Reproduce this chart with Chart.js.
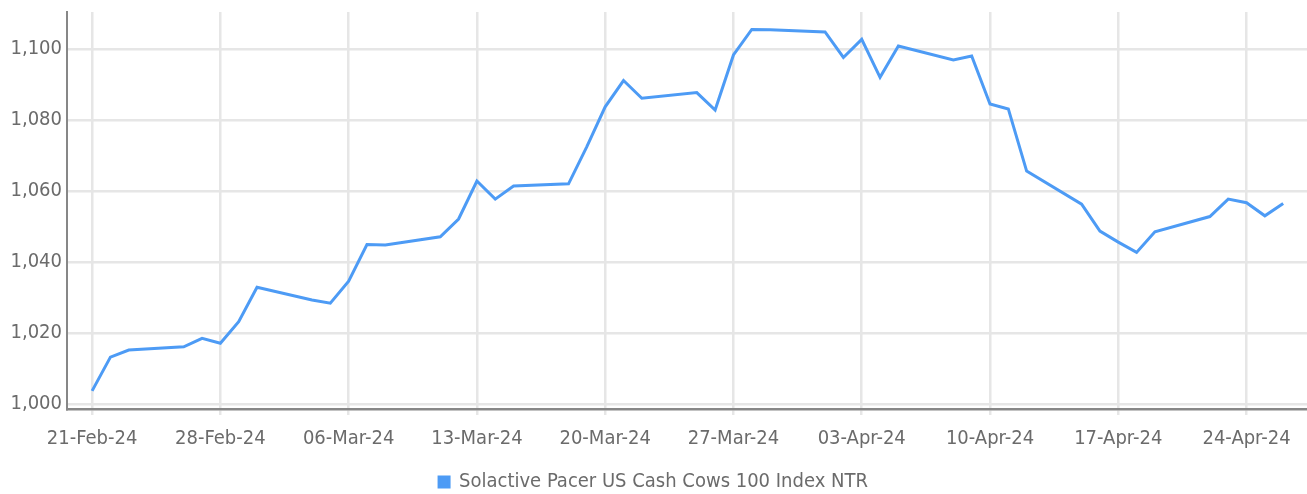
<!DOCTYPE html>
<html>
<head>
<meta charset="utf-8">
<script src="https://cdn.jsdelivr.net/npm/chart.js@4"></script>
<style>
  html, body { margin: 0; padding: 0; background: #fff; }
  #wrap { width: 1307px; height: 494px; }
</style>
</head>
<body>
<div id="wrap"><canvas id="indexChart"></canvas></div>
<script>
// trading days and index closes
var dates = ['2024-02-21','2024-02-22','2024-02-23','2024-02-26','2024-02-27','2024-02-28','2024-02-29','2024-03-01',
  '2024-03-04','2024-03-05','2024-03-06','2024-03-07','2024-03-08','2024-03-11','2024-03-12','2024-03-13','2024-03-14','2024-03-15',
  '2024-03-18','2024-03-19','2024-03-20','2024-03-21','2024-03-22','2024-03-25','2024-03-26','2024-03-27','2024-03-28','2024-03-29',
  '2024-04-01','2024-04-02','2024-04-03','2024-04-04','2024-04-05','2024-04-08','2024-04-09','2024-04-10','2024-04-11','2024-04-12',
  '2024-04-15','2024-04-16','2024-04-17','2024-04-18','2024-04-19','2024-04-22','2024-04-23','2024-04-24','2024-04-25','2024-04-26'];
var values = [1003.7,1013.2,1015.2,1016.1,1018.5,1017.1,1023.2,1032.9,
  1029.3,1028.4,1034.6,1044.9,1044.8,1047.1,1052.1,1062.8,1057.7,1061.4,
  1062.0,1072.5,1083.7,1091.1,1086.1,1087.7,1082.8,1098.3,1105.5,1105.4,
  1104.8,1097.6,1102.7,1092.0,1100.8,1096.9,1098.0,1084.5,1083.1,1065.6,
  1056.3,1048.7,1045.6,1042.7,1048.5,1052.8,1057.7,1056.7,1053.0,1056.5];
var seriesName = 'Solactive Pacer US Cash Cows 100 Index NTR';
var xTickDates = ['2024-02-21','2024-02-28','2024-03-06','2024-03-13','2024-03-20','2024-03-27','2024-04-03','2024-04-10','2024-04-17','2024-04-24'];
var yTicks = [1000,1020,1040,1060,1080,1100];

var DAY = 86400000;
var base = Date.parse(dates[0]);
function dayNum(s){ return (Date.parse(s) - base) / DAY; }
var months = ['Jan','Feb','Mar','Apr','May','Jun','Jul','Aug','Sep','Oct','Nov','Dec'];
function fmtDay(n){
    var d = new Date(base + n * DAY);
    var dd = ('0' + d.getUTCDate()).slice(-2);
    return dd + '-' + months[d.getUTCMonth()] + '-' + String(d.getUTCFullYear()).slice(-2);
}

var points = dates.map(function(s, i){ return {x: dayNum(s), y: values[i]}; });

var FONT = "'DejaVu Sans Condensed', 'Liberation Sans', sans-serif";
var TEXT = '#6b6b6b';
var GRID = '#e6e6e6';

var ctx = document.getElementById('indexChart').getContext('2d');
var chart = new Chart(ctx, {
    type: 'line',
    data: {
        datasets: [{
            label: seriesName,
            data: points,
            borderColor: '#4d9bf5',
            backgroundColor: '#4d9bf5',
            borderWidth: 3,
            pointRadius: 0,
            tension: 0,
            fill: false
        }]
    },
    options: {
        responsive: true,
        maintainAspectRatio: false,
        animation: false,
        // negative bottom padding lets the legend row sit lower
        layout: { padding: { top: 12, right: 0, left: 0, bottom: -8 } },
        plugins: {
            tooltip: { enabled: false },
            legend: {
                position: 'bottom',
                labels: {
                    color: TEXT,
                    font: { family: FONT, size: 20 },
                    boxWidth: 10,
                    boxHeight: 10,
                    padding: 3
                }
            }
        },
        scales: {
            x: {
                type: 'linear',
                min: -1.37,
                max: 66.3,
                afterBuildTicks: function(s){ s.ticks = xTickDates.map(function(d){ return {value: dayNum(d)}; }); },
                afterFit: function(s){ s.height = 60; },
                ticks: {
                    color: TEXT,
                    font: { family: FONT, size: 20 },
                    padding: 12,
                    maxRotation: 0,
                    callback: function(v){ return fmtDay(v); }
                },
                grid: { color: GRID, lineWidth: 2.5, drawTicks: true, tickLength: 6, tickColor: GRID },
                border: { display: true, color: '#878787', width: 2.5 }
            },
            y: {
                min: 998.6,
                max: 1110.4,
                afterBuildTicks: function(s){ s.ticks = yTicks.map(function(v){ return {value: v}; }); },
                afterFit: function(s){ s.width = 67; s.paddingTop = 0; s.paddingBottom = 0; },
                ticks: {
                    color: TEXT,
                    font: { family: FONT, size: 20 },
                    padding: 5,
                    callback: function(v){ return v.toLocaleString('en-US'); }
                },
                grid: { color: GRID, lineWidth: 2.5, drawTicks: false },
                border: { display: true, color: '#878787', width: 2 }
            }
        }
    }
});
</script>
</body>
</html>
